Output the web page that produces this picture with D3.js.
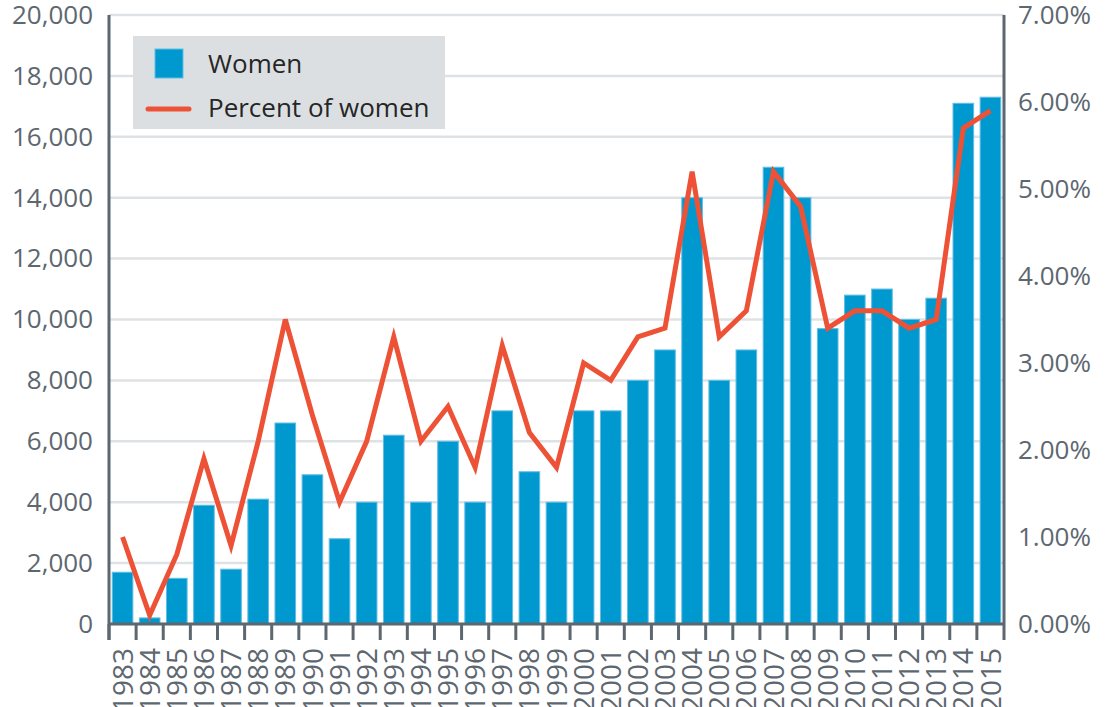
<!DOCTYPE html>
<html><head><meta charset="utf-8">
<script src="https://cdn.jsdelivr.net/npm/d3@7"></script>
<style>body{margin:0;background:#fff}svg{display:block}text{font-family:"Open Sans",sans-serif}</style>
</head><body>
<svg id="c" width="1105" height="707"></svg>
<script>
const years = [1983,1984,1985,1986,1987,1988,1989,1990,1991,1992,1993,1994,1995,1996,1997,1998,1999,2000,2001,2002,2003,2004,2005,2006,2007,2008,2009,2010,2011,2012,2013,2014,2015];
const women = [1700,200,1500,3900,1800,4100,6600,4900,2800,4000,6200,4000,6000,4000,7000,5000,4000,7000,7000,8000,9000,14000,8000,9000,15000,14000,9700,10800,11000,10000,10700,17100,17300];
const percentWomen = [1.0,0.1,0.8,1.9,0.9,2.1,3.5,2.4,1.4,2.1,3.3,2.1,2.5,1.8,3.2,2.2,1.8,3.0,2.8,3.3,3.4,5.2,3.3,3.6,5.2,4.8,3.4,3.6,3.6,3.4,3.5,5.7,5.9];
const leftTicks = [0,2000,4000,6000,8000,10000,12000,14000,16000,18000,20000];
const rightTicks = [0,1,2,3,4,5,6,7];
const legendLabels = ["Women","Percent of women"];

const svg = d3.select("#c");
const L = 109, R = 1004, T = 15, B = 624;
const x = d3.scaleBand().domain(years).range([L, R]).paddingInner(0.24).paddingOuter(0.12);
const xb = d3.scaleBand().domain(years).range([L, R]);
const yL = d3.scaleLinear().domain([0,20000]).range([B,T]);
const yR = d3.scaleLinear().domain([0,7]).range([B,T]);
const axisCol = "#5d6770", gridCol = "#dfe2e5", textCol = "#5d6770";

// grid
svg.append("g").selectAll("line").data(leftTicks).join("line")
  .attr("x1", L).attr("x2", R).attr("y1", d=>yL(d)).attr("y2", d=>yL(d))
  .attr("stroke", gridCol).attr("stroke-width", 2.5);

// bars
svg.append("g").selectAll("rect").data(years).join("rect")
  .attr("x", d=>x(d)).attr("width", x.bandwidth())
  .attr("y", (d,i)=>yL(women[i])).attr("height", (d,i)=>B - yL(women[i]))
  .attr("fill", "#0099cf").attr("stroke", "#5fbde6").attr("stroke-width", 1);

// left axis
const gl = svg.append("g").attr("transform", `translate(${L},0)`)
  .call(d3.axisLeft(yL).tickValues(leftTicks).tickSize(0).tickPadding(16).tickFormat(d3.format(",")));
gl.select(".domain").remove();
gl.selectAll("text").attr("font-size", 26).attr("fill", textCol).style("font-family", "Open Sans");

// right axis
const gr = svg.append("g").attr("transform", `translate(${R},0)`)
  .call(d3.axisRight(yR).tickValues(rightTicks).tickSize(0).tickPadding(14).tickFormat(d=>d.toFixed(2)+"%"));
gr.select(".domain").remove();
gr.selectAll("text").attr("font-size", 26).attr("fill", textCol).style("font-family", "Open Sans");

// axis lines
svg.append("line").attr("x1", L).attr("x2", L).attr("y1", T).attr("y2", 640).attr("stroke", axisCol).attr("stroke-width", 3);
svg.append("line").attr("x1", R).attr("x2", R).attr("y1", T).attr("y2", 640).attr("stroke", axisCol).attr("stroke-width", 3);
svg.append("line").attr("x1", L).attr("x2", R).attr("y1", B).attr("y2", B).attr("stroke", axisCol).attr("stroke-width", 3);
// x ticks at band boundaries
svg.append("g").selectAll("line").data(years).join("line")
  .attr("x1", d=>xb(d)).attr("x2", d=>xb(d)).attr("y1", B).attr("y2", 640)
  .attr("stroke", axisCol).attr("stroke-width", 3);

// x labels
svg.append("g").selectAll("text").data(years).join("text")
  .attr("transform", d=>`translate(${xb(d)+xb.bandwidth()/2},648) rotate(-90)`)
  .attr("text-anchor", "end").attr("dy", "0.36em")
  .attr("font-size", 28).attr("fill", textCol).text(d=>d);

// line
const line = d3.line().x((d,i)=>xb(years[i])+xb.bandwidth()/2).y(d=>yR(d));
svg.append("path").datum(percentWomen).attr("d", line)
  .attr("fill", "none").attr("stroke", "#ee5236").attr("stroke-width", 5).attr("stroke-linejoin", "miter");

// legend
const lg = svg.append("g");
lg.append("rect").attr("x", 133).attr("y", 36).attr("width", 312).attr("height", 93).attr("fill", "#dcdfe2");
lg.append("rect").attr("x", 155).attr("y", 49).attr("width", 28).attr("height", 29).attr("fill", "#0099cf").attr("stroke", "#5fbde6").attr("stroke-width", 1);
lg.append("line").attr("x1", 148).attr("x2", 189).attr("y1", 109).attr("y2", 109).attr("stroke", "#ee5236").attr("stroke-width", 5).attr("stroke-linecap", "round");
lg.selectAll("text.l").data(legendLabels).join("text").attr("class","l")
  .attr("x", 208).attr("y", (d,i)=> i===0 ? 73 : 117)
  .attr("font-size", 26).attr("fill", "#262626").text(d=>d);
</script>
</body></html>
